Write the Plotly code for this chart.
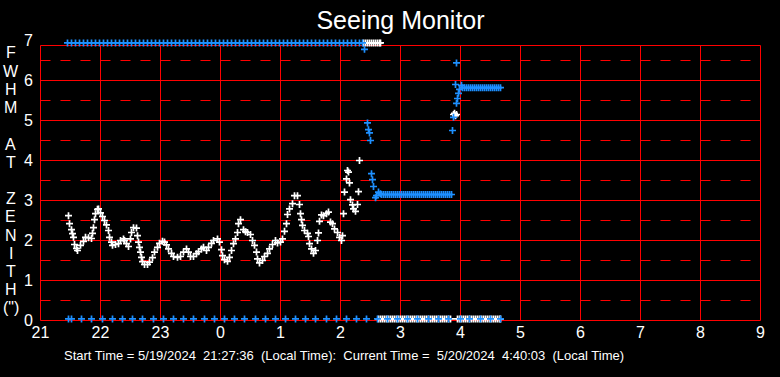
import plotly.graph_objects as go

# ---------------- data (time = minutes after 21:00, value = FWHM arcsec) ----------------
white_curve_min = [
    28, 29, 31, 32, 33, 34, 36, 37, 40, 43,
    45, 48, 51, 52, 53, 54, 55, 57, 58, 60,
    62, 64, 66, 68, 69, 71, 72, 75, 78, 80,
    83, 84, 86, 88, 90, 91, 93, 96, 97, 98,
    99, 100, 101, 102, 104, 107, 109, 112, 114, 117,
    119, 122, 124, 126, 128, 131, 133, 137, 140, 143,
    146, 148, 150, 153, 156, 158, 161, 163, 166, 168,
    171, 173, 177, 179, 181, 182, 184, 187, 189, 191,
    193, 195, 197, 198, 200, 203, 205, 207, 210, 212,
    214, 216, 217, 219, 222, 224, 227, 229, 232, 235,
    237, 240, 242, 244, 246, 247, 249, 252, 254, 257,
    259, 260, 261, 262, 264, 267, 268, 269, 271, 273,
    275, 277, 278, 279, 281, 283, 286, 288, 290, 292,
    294, 297, 299, 301, 302, 303, 304, 306, 307, 308,
    309, 310, 312, 313, 315, 317, 318, 319]
white_curve_fwhm = [
    2.62, 2.42, 2.27, 2.17, 2.08, 1.90, 1.80, 1.75, 1.88, 1.98,
    2.08, 2.07, 2.05, 2.18, 2.32, 2.52, 2.67, 2.78, 2.79, 2.69,
    2.60, 2.50, 2.39, 2.25, 2.08, 1.96, 1.88, 1.90, 1.92, 2.00,
    2.04, 2.00, 1.92, 1.85, 2.04, 2.20, 2.32, 2.31, 2.12, 1.96,
    1.83, 1.71, 1.58, 1.47, 1.40, 1.40, 1.46, 1.57, 1.71, 1.83,
    1.93, 1.98, 1.96, 1.89, 1.79, 1.68, 1.60, 1.58, 1.60, 1.71,
    1.79, 1.71, 1.60, 1.60, 1.67, 1.72, 1.79, 1.83, 1.75, 1.83,
    1.93, 2.00, 2.04, 1.96, 1.77, 1.62, 1.52, 1.48, 1.58, 1.75,
    1.92, 2.04, 2.20, 2.42, 2.52, 2.27, 2.22, 2.20, 2.15, 2.00,
    1.88, 1.71, 1.54, 1.44, 1.50, 1.60, 1.68, 1.79, 1.90, 2.00,
    1.94, 1.96, 2.04, 2.23, 2.42, 2.65, 2.79, 2.92, 3.12, 3.12,
    2.90, 2.67, 2.52, 2.38, 2.25, 2.18, 2.10, 1.92, 1.79, 1.68,
    1.75, 2.00, 2.19, 2.48, 2.64, 2.62, 2.67, 2.71, 2.46, 2.42,
    2.29, 2.20, 2.08, 2.00, 2.12, 2.67, 3.21, 3.54, 3.75, 3.71,
    3.44, 3.02, 2.89, 2.79, 2.73, 2.90, 3.22, 4.00]

white_top_min = [323, 325, 327, 329, 331, 333, 335, 337, 339, 340]
white_high_min = [413, 414, 415, 416]
white_high_fwhm = [5.15, 5.18, 5.12, 5.15]
white_zero_min = [338, 340, 342, 344, 346, 348, 350, 352, 354, 356, 358, 360, 362,
                  364, 366, 368, 370, 372, 374, 376, 378, 380, 382, 384, 386, 388,
                  390, 392, 394, 396, 398, 400, 402, 404, 406, 408, 410,
                  417, 419, 421, 423, 425, 427, 429, 431, 433, 435, 437, 439, 441,
                  443, 445, 447, 449, 451, 453, 455, 457, 459, 460]

blue_top_min = [27, 31, 35, 39, 43, 47, 51, 55, 59, 63, 67, 71, 75, 79, 83, 87, 91,
                95, 99, 103, 107, 111, 115, 119, 123, 127, 131, 135, 139, 143, 147,
                151, 155, 159, 163, 167, 171, 175, 179, 183, 187, 191, 195, 199, 203,
                207, 211, 215, 219, 223, 227, 231, 235, 239, 243, 247, 251, 255, 259,
                263, 267, 271, 275, 279, 283, 287, 291, 295, 299, 303, 307, 311, 315,
                319, 322]
blue_drop_min = [324, 327, 328, 329, 330, 331, 332, 333, 335, 336, 338, 340]
blue_drop_fwhm = [6.78, 4.94, 4.77, 4.69, 4.50, 3.67, 3.52, 3.35, 3.07, 3.12, 3.21, 3.17]
blue_flat1_min = [341, 343, 345, 347, 349, 351, 353, 355, 357, 359, 361, 363, 365,
                  367, 369, 371, 373, 375, 377, 379, 381, 383, 385, 387, 389, 391,
                  393, 395, 397, 399, 401, 403, 405, 407, 409, 411]
blue_jump_min = [412, 413, 415, 416, 416, 417, 418, 419, 421]
blue_jump_fwhm = [4.75, 5.08, 5.90, 6.44, 5.43, 5.55, 5.68, 5.78, 5.88]
blue_flat2_min = [422, 424, 426, 428, 430, 432, 434, 436, 438, 440, 442, 444, 446,
                  448, 450, 452, 454, 456, 458, 460]
blue_zero_min = [28, 31, 41, 51, 62, 72, 82, 92, 102, 113, 123, 133, 143, 153, 164,
                 174, 184, 194, 204, 215, 225, 235, 245, 255, 265, 275, 286, 296, 306,
                 316, 326, 337, 347, 357, 367, 377, 388, 398, 408, 420, 429, 440, 450, 460]

top_level = 6.94      # readings pinned at the top of the scale
zero_level = 0.04     # readings pinned at the bottom
blue_flat1_level = 3.15
blue_flat2_level = 5.82

hour_ticks = [21, 22, 23, 24, 25, 26, 27, 28, 29, 30, 31, 32, 33]
hour_labels = ["21", "22", "23", "0", "1", "2", "3", "4", "5", "6", "7", "8", "9"]
fwhm_ticks = [0, 1, 2, 3, 4, 5, 6, 7]
ylabel_chars = ["F", "W", "H", "M", "", "A", "T", "", "Z", "E", "N", "I", "T", "H", "(\")"]

assert len(white_curve_min) == len(white_curve_fwhm)

def hrs(mins):
    return [21 + m / 60 for m in mins]

WHITE = "#FFFFFF"
BLUE = "#1E90FF"
RED = "#FF0000"
FONT = "Liberation Sans, Arial, sans-serif"
NARROW = "Liberation Sans Narrow, Arial Narrow, Liberation Sans, sans-serif"

white_x = hrs(white_curve_min) + hrs(white_top_min) + hrs(white_high_min) + hrs(white_zero_min)
white_y = (white_curve_fwhm + [top_level] * len(white_top_min) + white_high_fwhm
           + [zero_level] * len(white_zero_min))

blue_x = (hrs(blue_top_min) + hrs(blue_drop_min) + hrs(blue_flat1_min) + hrs(blue_jump_min)
          + hrs(blue_flat2_min) + hrs(blue_zero_min))
blue_y = ([top_level] * len(blue_top_min) + blue_drop_fwhm + [blue_flat1_level] * len(blue_flat1_min)
          + blue_jump_fwhm + [blue_flat2_level] * len(blue_flat2_min)
          + [zero_level] * len(blue_zero_min))

def marker(c):
    return dict(symbol="cross-thin", size=5, color=c, line=dict(width=1.7, color=c))

fig = go.Figure()
fig.add_trace(go.Scatter(x=white_x, y=white_y, mode="markers", marker=marker(WHITE),
                         cliponaxis=False, hoverinfo="skip"))
fig.add_trace(go.Scatter(x=blue_x, y=blue_y, mode="markers", marker=marker(BLUE),
                         cliponaxis=False, hoverinfo="skip"))

# pixel scale: 60 px per hour, 40 px per FWHM unit. The axis ranges are padded by
# half a pixel so that 1px grid lines at whole values land on pixel centres.
PX_X = 0.5 / 60
PX_Y = 0.5 / 40
grid_top = 6.875
shapes = []
for h in hour_ticks:
    shapes.append(dict(type="line", xref="x", yref="y", x0=h, x1=h, y0=0, y1=grid_top,
                       line=dict(color=RED, width=1), layer="below"))
for v in [0, 1, 2, 3, 4, 5, 6, grid_top]:
    shapes.append(dict(type="line", xref="x", yref="y", x0=21, x1=33, y0=v, y1=v,
                       line=dict(color=RED, width=1), layer="below"))
for v in [0.5, 1.5, 2.5, 3.5, 4.5, 5.5, 6.5]:
    shapes.append(dict(type="line", xref="x", yref="y", x0=21, x1=33, y0=v, y1=v,
                       line=dict(color=RED, width=1, dash="10px,10px"), layer="below"))

PLOT_H = 377 - 39 - 56
annotations = []
for i, ch in enumerate(ylabel_chars):
    if not ch:
        continue
    py = 53 + 18.2 * i
    annotations.append(dict(text=ch, xref="paper", yref="paper", x=(11 - 40) / 721,
                            y=(321 - py) / PLOT_H, xanchor="center", yanchor="middle",
                            showarrow=False, font=dict(family=NARROW, size=16, color=WHITE)))
annotations.append(dict(
    text="Start Time = 5/19/2024  21:27:36  (Local Time):  Current Time =  5/20/2024  4:40:03  (Local Time)",
    xref="paper", yref="paper", x=(62 - 40) / 721, y=(321 - 355) / PLOT_H,
    xanchor="left", yanchor="middle", showarrow=False,
    font=dict(family=FONT, size=13, color=WHITE)))

fig.update_layout(
    width=780, height=377,
    margin=dict(l=40, r=19, t=39, b=56),
    paper_bgcolor="black", plot_bgcolor="black",
    showlegend=False,
    title=dict(text="Seeing Monitor", xref="paper", x=0.5, xanchor="center",
               y=(377 - 20) / 377, yanchor="middle",
               font=dict(family=FONT, size=25, color=WHITE)),
    xaxis=dict(range=[21 - PX_X, 33 + PX_X], tickvals=hour_ticks, ticktext=hour_labels,
               showgrid=False, zeroline=False, showline=False, ticks="",
               tickfont=dict(family=NARROW, size=16, color=WHITE), fixedrange=True),
    yaxis=dict(range=[-PX_Y, 7 + 3 * PX_Y], tickvals=fwhm_ticks, showgrid=False, zeroline=False,
               showline=False, ticks="outside", ticklen=3, tickcolor="black",
               tickfont=dict(family=NARROW, size=16, color=WHITE), fixedrange=True),
    shapes=shapes, annotations=annotations,
)

fig.write_html("out.html", config={"displayModeBar": False},
               post_script="document.body.style.margin='0';")
